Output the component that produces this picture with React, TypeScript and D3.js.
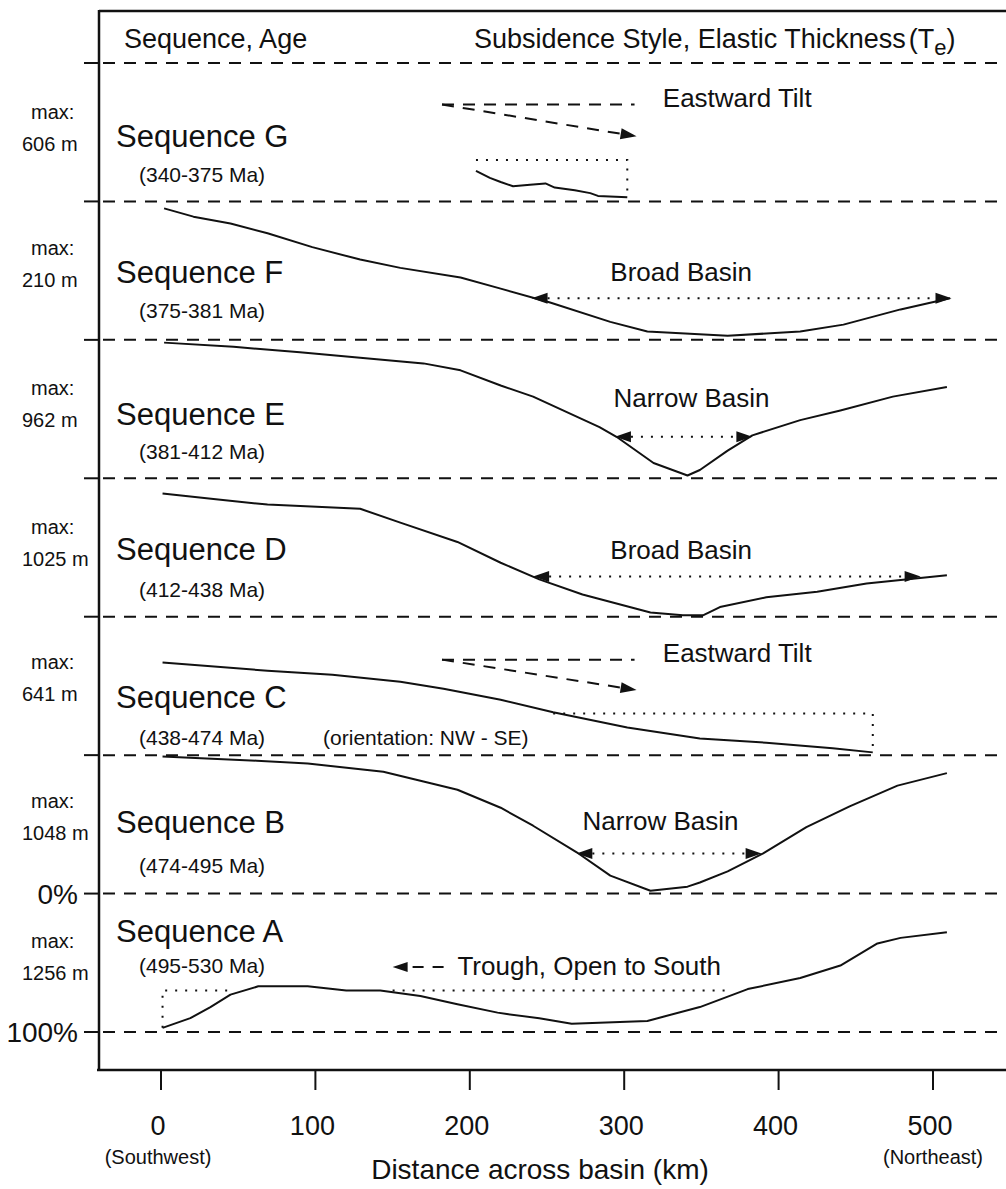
import React from 'react';
import * as d3 from 'd3';

const sequences = ['G', 'F', 'E', 'D', 'C', 'B', 'A'];
const ages = ['340-375 Ma', '375-381 Ma', '381-412 Ma', '412-438 Ma', '438-474 Ma', '474-495 Ma', '495-530 Ma'];
const maxThickness = [606, 210, 962, 1025, 641, 1048, 1256];
const xTicks = [0, 100, 200, 300, 400, 500];

// profiles: [distance km, % of max thickness (0 = top, 100 = bottom of row)]
const profileG = [[204, 78], [213, 83], [220, 86], [228, 89], [239, 88], [249, 87], [255, 90], [268, 92], [278, 94], [283, 96], [302, 97]];
const profileF = [[2, 5], [21, 11], [45, 16], [69, 23], [98, 33], [129, 42], [155, 48], [194, 55], [220, 63], [252, 73], [291, 87], [315, 94], [367, 97], [414, 94], [442, 89], [479, 78], [511, 70]];
const profileE = [[2, 2], [47, 5], [90, 9], [129, 13], [170, 17], [194, 22], [220, 33], [241, 41], [284, 63], [295, 70], [319, 89], [341, 98], [349, 94], [367, 80], [383, 69], [414, 58], [440, 51], [474, 41], [509, 34]];
const profileD = [[1, 11], [34, 15], [69, 19], [129, 22], [155, 32], [192, 46], [220, 61], [245, 73], [273, 84], [317, 97], [338, 99], [351, 99], [362, 93], [392, 86], [425, 82], [457, 76], [509, 70]];
const profileC = [[1, 33], [69, 39], [111, 42], [155, 47], [183, 52], [220, 60], [254, 69], [302, 80], [349, 88], [392, 91], [435, 95], [461, 98]];
const profileB = [[1, 1], [62, 4], [95, 6], [144, 12], [170, 19], [192, 25], [220, 38], [241, 51], [269, 70], [291, 87], [317, 98], [341, 95], [349, 92], [367, 84], [390, 71], [418, 52], [446, 37], [477, 22], [509, 13]];
const profileA = [[1, 97], [19, 90], [32, 82], [45, 73], [63, 67], [95, 67], [120, 70], [142, 70], [168, 74], [192, 80], [218, 86], [224, 87], [245, 90], [266, 94], [315, 92], [349, 82], [380, 69], [414, 61], [440, 52], [464, 36], [479, 32], [509, 28]];
const profiles = [profileG, profileF, profileE, profileD, profileC, profileB, profileA];

// subsidence style annotations
const styleLabels = ['Eastward Tilt', 'Broad Basin', 'Narrow Basin', 'Broad Basin', 'Eastward Tilt', 'Narrow Basin', 'Trough, Open to South'];
// label anchor [km, %]
const styleLabelPos = [[325, 32], [291, 57.5], [293, 48.5], [291, 58], [325, 33], [273, 54], [192, 59]];
// double arrows [from km, to km, %]
const spans: Record<string, number[]> = { F: [240, 512, 70], E: [294, 383, 70], D: [241, 492, 71], B: [269, 389, 71] };
// tilt arrows [from km, to km, start %, end %]
const tilts: Record<string, number[]> = { G: [182, 308, 30, 53], C: [182, 308, 31, 53] };
// dotted outlines
const boxes: Record<string, number[][][]> = {
  G: [[[204, 70], [302, 70], [302, 97]]],
  C: [[[254, 70], [461, 70], [461, 98]]],
  A: [[[1, 97], [1, 70], [47, 70]], [[150, 70], [370, 70]]],
};

const W = 1006;
const H = 1189;
const font = '"Liberation Sans", Arial, Helvetica, sans-serif';

const x = d3.scaleLinear().domain([0, 500]).range([161, 933]);
const band = d3.scaleBand().domain(sequences).range([63, 1032]);
const rowY = (s: string) => d3.scaleLinear().domain([0, 100]).range([band(s)!, band(s)! + band.bandwidth()]);

// label offsets inside each row (px below the row's top line)
const nameDy = [84, 82, 85, 82, 91, 78, 48];
const ageDy = [119, 117, 119, 119, 128, 118, 79];
const maxDy = [56, 54, 55, 56, 52, 53, 54];

function head(tx: number, ty: number, ang: number, L = 16, w = 5.5) {
  const c = Math.cos(ang), s = Math.sin(ang);
  const bx = tx - L * c, by = ty - L * s;
  return `M${tx},${ty}L${bx - w * s},${by + w * c}L${bx + w * s},${by - w * c}Z`;
}

const App = () => {
  const left = 99;
  const boundaries = [...sequences.map(s => band(s)!), band.range()[1]];

  return (
    <svg width={W} height={H} style={{ position: 'absolute', left: 0, top: 0, background: '#fff' }} fontFamily={font}>
      {/* frame */}
      <line x1={left} x2={W} y1={11} y2={11} stroke="#111" strokeWidth={2.5} />
      <line x1={left} x2={left} y1={10} y2={1071} stroke="#111" strokeWidth={2.5} />
      <line x1={left - 2} x2={W} y1={1070} y2={1070} stroke="#111" strokeWidth={2.5} />

      {/* header */}
      <text x={124} y={48} fontSize={27} fill="#111">Sequence, Age</text>
      <text x={474} y={48} fontSize={27} fill="#111">
        Subsidence Style, Elastic Thickness<tspan dx={3}>(T</tspan><tspan fontSize={22} dy={7}>e</tspan><tspan dy={-7}>)</tspan>
      </text>

      {/* row separators */}
      {boundaries.map((b, i) => (
        <g key={i}>
          <line x1={84} x2={left} y1={b} y2={b} stroke="#111" strokeWidth={2} />
          <line x1={103} x2={1000} y1={b} y2={b} stroke="#111" strokeWidth={2} strokeDasharray="12 9" />
        </g>
      ))}
      <text x={78} y={band('A')! + 10} fontSize={28} textAnchor="end" fill="#111">0%</text>
      <text x={78} y={band.range()[1] + 10} fontSize={28} textAnchor="end" fill="#111">100%</text>

      {sequences.map((s, i) => {
        const y = rowY(s);
        const y0 = band(s)!;
        const line = d3.line<number[]>().x(d => x(d[0])).y(d => y(d[1]));
        return (
          <g key={s}>
            <text x={31} y={y0 + maxDy[i]} fontSize={20} fill="#111">max:</text>
            <text x={22} y={y0 + maxDy[i] + 32} fontSize={20} fill="#111">{maxThickness[i]} m</text>
            <text x={116} y={y0 + nameDy[i]} fontSize={31} fill="#111">Sequence {s}</text>
            <text x={139} y={y0 + ageDy[i]} fontSize={21} fill="#111">({ages[i]})</text>

            {(boxes[s] || []).map((seg, k) => (
              <path key={k} d={line(seg)!} fill="none" stroke="#111" strokeWidth={2} strokeDasharray="2 8" />
            ))}

            <path d={line(profiles[i])!} fill="none" stroke="#111" strokeWidth={2} strokeLinejoin="round" />

            {spans[s] && (() => {
              const [a, b, p] = spans[s];
              const yy = y(p);
              return (
                <g>
                  <line x1={x(a) + 16} x2={x(b) - 16} y1={yy} y2={yy} stroke="#111" strokeWidth={2} strokeDasharray="2 8" />
                  <path d={head(x(a), yy, Math.PI)} fill="#111" />
                  <path d={head(x(b), yy, 0)} fill="#111" />
                </g>
              );
            })()}

            {tilts[s] && (() => {
              const [a, b, p0, p1] = tilts[s];
              const ang = Math.atan2(y(p1) - y(p0), x(b) - x(a));
              const ex = x(b) - 16 * Math.cos(ang), ey = y(p1) - 16 * Math.sin(ang);
              return (
                <g>
                  <line x1={x(a)} x2={x(b) - 2} y1={y(p0)} y2={y(p0)} stroke="#111" strokeWidth={2} strokeDasharray="12 9" />
                  <line x1={x(a)} x2={ex} y1={y(p0)} y2={ey} stroke="#111" strokeWidth={2} strokeDasharray="12 9" />
                  <path d={head(x(b), y(p1), ang)} fill="#111" />
                </g>
              );
            })()}

            {s === 'A' && (
              <g>
                <path d={head(x(150), y(53), Math.PI, 15, 5)} fill="#111" />
                <line x1={x(150) + 20} x2={x(184)} y1={y(53)} y2={y(53)} stroke="#111" strokeWidth={2} strokeDasharray="11 9" />
              </g>
            )}

            <text x={x(styleLabelPos[i][0])} y={y(styleLabelPos[i][1])} fontSize={26} fill="#111">{styleLabels[i]}</text>
            {s === 'C' && (
              <text x={x(105)} y={y(93)} fontSize={21} fill="#111">(orientation: NW - SE)</text>
            )}
          </g>
        );
      })}

      {/* x axis */}
      {xTicks.map(t => (
        <g key={t}>
          <line x1={x(t)} x2={x(t)} y1={1070} y2={1090} stroke="#111" strokeWidth={2} />
          <text x={x(t) - 3} y={1135} fontSize={27} textAnchor="middle" fill="#111">{t}</text>
        </g>
      ))}
      <text x={x(0) - 3} y={1164} fontSize={20} textAnchor="middle" fill="#111">(Southwest)</text>
      <text x={x(500)} y={1164} fontSize={20} textAnchor="middle" fill="#111">(Northeast)</text>
      <text x={540} y={1179} fontSize={28} textAnchor="middle" fill="#111">Distance across basin (km)</text>
    </svg>
  );
};

export default App;
